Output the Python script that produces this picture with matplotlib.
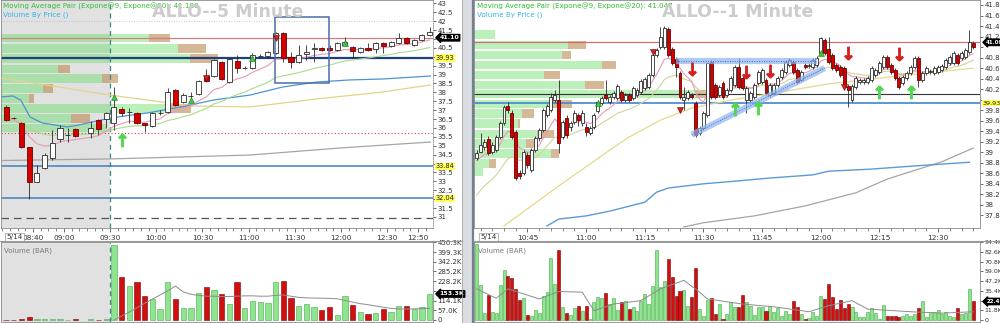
import numpy as np
import matplotlib.pyplot as plt
import matplotlib.transforms as mtransforms
from matplotlib.patches import Rectangle
from matplotlib.lines import Line2D

# %%
# ---------------- ALLO 5 minute (left) ----------------
pre_times = ["08:20", "08:25", "08:30", "08:35", "08:40", "08:45", "08:50",
             "08:55", "09:00", "09:05", "09:15", "09:20", "09:25"]
pre_open = [37.18, 36.56, 36.28, 34.93, 32.97, 33.75, 34.31, 35.38, 35.60, 35.94, 35.72, 36.45, 36.50]
pre_high = [37.30, 36.60, 36.32, 34.95, 33.92, 34.60, 35.89, 36.17, 36.00, 36.00, 36.39, 36.50, 36.90]
pre_low = [36.40, 36.50, 34.90, 32.01, 32.95, 33.70, 34.20, 35.21, 35.21, 35.50, 35.44, 35.60, 36.00]
pre_close = [36.45, 36.54, 34.93, 32.97, 33.47, 34.48, 35.16, 36.00, 35.62, 35.55, 36.00, 35.94, 36.84]
pre_vol = [2, 1, 3, 16, 4, 3, 4, 3, 2, 3, 3, 2, 3]

# regular session, one bar every 5 minutes from 09:30
sess_open = [36.28, 37.07, 36.90, 36.84, 36.28, 36.11, 36.84, 36.90, 38.13, 37.46, 37.80, 37.91, 38.92, 38.92,
             39.71, 38.58, 39.76, 39.37, 39.37, 40.04, 40.04, 40.21, 41.34, 39.99, 39.71, 40.16, 40.44, 40.49,
             40.49, 40.38, 40.66, 40.55, 40.27, 40.49, 40.44, 40.77, 40.61, 40.77, 41.06, 40.66, 40.94, 41.22]
sess_high = [38.30, 37.20, 37.12, 36.90, 36.30, 36.90, 37.00, 38.25, 38.20, 37.95, 38.00, 38.70, 39.31, 39.90,
             39.75, 39.95, 40.10, 39.50, 40.20, 40.15, 40.35, 41.40, 41.40, 40.27, 40.66, 40.66, 40.77, 40.55,
             40.66, 40.85, 41.11, 40.60, 40.55, 40.77, 40.85, 40.85, 40.90, 41.34, 41.10, 41.00, 41.30, 41.67]
sess_low = [35.89, 36.70, 36.28, 36.25, 35.77, 36.05, 36.75, 36.85, 37.25, 37.40, 37.46, 37.85, 38.60, 38.88,
            38.70, 38.55, 39.09, 39.30, 39.30, 39.95, 39.95, 40.15, 39.71, 39.37, 39.65, 39.82, 39.71, 40.30,
            40.30, 40.30, 40.60, 39.93, 40.20, 40.30, 40.21, 40.21, 40.55, 40.70, 40.70, 40.60, 40.90, 41.15]
sess_close = [37.18, 36.84, 36.92, 36.28, 36.17, 36.84, 36.86, 38.02, 37.29, 37.85, 37.82, 38.64, 38.64, 39.82,
              38.75, 39.88, 39.37, 39.39, 40.10, 40.06, 40.27, 41.34, 39.93, 39.71, 40.10, 40.27, 40.49, 40.38,
              40.38, 40.77, 40.83, 40.32, 40.49, 40.38, 40.77, 40.61, 40.83, 41.06, 40.77, 40.94, 41.22, 41.39]
sess_vol = [440, 254.6, 200, 225, 143, 123.5, 64.7, 221.6, 121.6, 68.6, 68.6, 157, 196, 176, 151, 94, 225, 72,
            111.7, 104, 98, 225, 229, 127.6, 82, 92, 78, 58.8, 74.5, 29.4, 141, 88, 45, 33.3, 39, 62.7, 49, 82,
            82, 62.7, 74.5, 153.3]
sess_vol_avg = [0, 23, 47, 72, 98, 123, 147, 172, 200, 165, 151, 145, 140, 140, 138, 138, 140, 142, 142, 140,
                140, 145, 147, 140, 133, 130, 129, 128, 127, 125, 115, 105, 96, 90, 82, 75, 68, 65, 64, 65, 67, 69]

# volume by price rows (price, green part, tan part)
vbp5_price = [41.06, 40.47, 39.90, 39.31, 38.78, 38.22, 37.66, 37.10, 36.53, 36.00]
vbp5_green = [148, 177, 189, 57, 101, 42, 28, 167, 70, 105]
vbp5_tan = [21, 28, 28, 12, 16, 10, 5, 23, 19, 0]

# longer averages (time HH:MM, price)
ma5_blue_t = ["08:19", "08:27", "08:32", "08:38", "08:46", "09:02", "09:10", "09:30", "09:54", "10:20",
              "10:37", "11:01", "11:22", "11:44", "12:06", "12:27", "12:58"]
ma5_blue_p = [37.74, 37.80, 37.57, 36.62, 36.28, 36.06, 36.17, 36.56, 36.84, 37.24, 37.57, 37.85, 38.30,
              38.58, 38.70, 38.75, 38.92]
ma5_yel_t = ["08:19", "09:30", "10:22", "11:01", "11:44", "12:27", "12:58"]
ma5_yel_p = [38.81, 37.85, 37.24, 37.18, 37.63, 38.02, 38.42]
ma5_gray_t = ["08:19", "09:30", "11:01", "12:00", "12:58"]
ma5_gray_p = [34.17, 34.26, 34.48, 34.88, 35.21]

sig5_up_k = [0, 10, 18, 30]
sig5_up_p = [37.75, 37.55, 39.93, 40.77]
sig5_dn_k = [12, 21]
sig5_dn_p = [38.80, 41.06]
arr5_up_k = [1]
arr5_up_p = [35.35]
box5 = ("11:17", "11:52", 38.53, 42.24)

# ---------------- ALLO 1 minute (right), bars from 10:32 ----------------
m_open = [38.89, 39.01, 39.10, 39.25, 39.01, 39.04, 39.29, 39.56, 39.88, 39.75, 39.39, 38.60, 38.60, 38.95, 38.66, 39.04,
          39.27, 39.42, 39.71, 39.80, 40.00, 39.99, 39.29, 39.65, 39.48, 39.58, 39.71, 39.56, 39.48, 39.37, 39.48, 39.78,
          39.94, 40.09, 39.96, 40.05, 40.03, 40.15, 39.99, 40.09, 40.03, 40.09, 40.15, 40.22, 40.24, 40.47, 40.85, 41.00,
          41.00, 41.34, 40.96, 40.77, 40.51, 39.99, 40.03, 40.09, 39.94, 39.37, 39.46, 39.71, 40.72, 40.28, 40.09, 40.32,
          40.09, 40.18, 40.28, 40.62, 40.41, 39.99, 40.00, 40.05, 40.32, 40.34, 40.37, 40.09, 40.13, 40.28, 40.43, 40.53,
          40.66, 40.72, 40.56, 40.37, 40.66, 40.64, 40.62, 40.66, 40.89, 41.13, 40.96, 40.85, 40.66, 40.62, 40.60, 40.26,
          39.99, 40.24, 40.34, 40.34, 40.34, 40.37, 40.47, 40.53, 40.62, 40.81, 40.66, 40.56, 40.41, 40.32, 40.41, 40.51,
          40.62, 40.79, 40.37, 40.51, 40.53, 40.51, 40.53, 40.56, 40.62, 40.70, 40.70, 40.85, 40.79, 40.81, 40.91, 41.08]
m_high = [39.04, 39.37, 39.25, 39.30, 39.20, 39.33, 39.60, 39.90, 39.96, 39.80, 39.42, 38.66, 39.05, 39.00, 39.08, 39.30,
          39.46, 39.84, 39.92, 40.13, 40.18, 40.37, 39.62, 39.70, 39.60, 39.80, 39.75, 39.80, 39.55, 39.50, 39.75, 40.00,
          40.07, 40.37, 40.09, 40.17, 40.30, 40.19, 40.13, 40.13, 40.26, 40.22, 40.40, 40.43, 40.51, 40.89, 40.98, 41.38,
          41.40, 41.38, 41.00, 40.81, 40.55, 40.24, 40.19, 40.13, 39.98, 39.50, 39.79, 40.72, 40.76, 40.32, 40.28, 40.36,
          40.22, 40.45, 40.66, 40.79, 40.45, 40.26, 40.17, 40.32, 40.57, 40.60, 40.41, 40.32, 40.32, 40.45, 40.60, 40.76,
          40.79, 40.76, 40.60, 40.57, 40.70, 40.70, 40.79, 40.83, 41.19, 41.17, 41.19, 40.89, 40.70, 40.66, 40.64, 40.30,
          40.30, 40.45, 40.41, 40.41, 40.45, 40.64, 40.60, 40.74, 40.85, 40.85, 40.70, 40.60, 40.45, 40.47, 40.55, 40.66,
          40.83, 40.83, 40.55, 40.64, 40.59, 40.64, 40.66, 40.68, 40.79, 40.85, 40.93, 40.89, 40.93, 40.98, 41.32, 41.12]
m_low = [38.85, 38.98, 39.05, 38.95, 38.97, 39.00, 39.25, 39.52, 39.75, 39.25, 38.48, 38.50, 38.56, 38.70, 38.62, 39.00,
         39.22, 39.38, 39.67, 39.76, 39.95, 38.99, 39.25, 39.28, 39.40, 39.54, 39.50, 39.50, 39.30, 39.33, 39.44, 39.74,
         39.90, 40.00, 39.92, 40.01, 39.99, 39.95, 39.95, 39.95, 39.99, 40.05, 40.11, 40.18, 40.20, 40.43, 40.81, 40.96,
         40.96, 40.81, 40.66, 40.43, 40.01, 39.80, 39.99, 40.01, 39.29, 39.33, 39.42, 39.67, 40.01, 40.01, 40.05, 40.01,
         40.05, 40.14, 40.24, 40.20, 40.18, 39.75, 39.96, 40.01, 40.28, 40.30, 40.09, 40.05, 40.09, 40.24, 40.39, 40.49,
         40.62, 40.49, 40.30, 40.33, 40.58, 40.60, 40.58, 40.62, 40.85, 40.85, 40.68, 40.56, 40.52, 40.43, 40.20, 39.86,
         39.95, 40.20, 40.30, 40.30, 40.30, 40.33, 40.43, 40.49, 40.58, 40.58, 40.49, 40.37, 40.20, 40.28, 40.37, 40.47,
         40.58, 40.24, 40.33, 40.47, 40.49, 40.47, 40.49, 40.52, 40.58, 40.66, 40.66, 40.66, 40.75, 40.77, 40.87, 40.96]
m_close = [38.99, 39.14, 39.20, 38.99, 39.14, 39.29, 39.56, 39.86, 39.80, 39.29, 38.51, 38.55, 39.00, 38.76, 39.04, 39.27,
           39.42, 39.80, 39.88, 40.05, 40.09, 39.18, 39.58, 39.33, 39.56, 39.75, 39.62, 39.75, 39.39, 39.46, 39.71, 39.96,
           40.03, 40.03, 40.05, 40.13, 40.26, 39.99, 40.09, 39.99, 40.22, 40.18, 40.36, 40.39, 40.47, 40.85, 40.94, 41.19,
           41.36, 40.85, 40.70, 40.62, 40.05, 40.05, 40.15, 40.05, 39.33, 39.46, 39.75, 40.70, 40.05, 40.05, 40.24, 40.05,
           40.18, 40.41, 40.62, 40.24, 40.22, 40.22, 40.13, 40.28, 40.53, 40.56, 40.13, 40.28, 40.28, 40.41, 40.56, 40.72,
           40.75, 40.53, 40.34, 40.53, 40.62, 40.66, 40.75, 40.79, 41.17, 40.89, 40.72, 40.60, 40.56, 40.47, 40.24, 40.18,
           40.26, 40.41, 40.37, 40.37, 40.41, 40.60, 40.56, 40.70, 40.81, 40.62, 40.53, 40.41, 40.24, 40.43, 40.51, 40.62,
           40.79, 40.37, 40.51, 40.60, 40.55, 40.60, 40.62, 40.64, 40.75, 40.81, 40.89, 40.70, 40.89, 40.94, 41.10, 41.00]
m_vol = [92, 42, 8.3, 30.4, 10, 9, 41.8, 60.3, 53.3, 51.2, 37.7, 24.7, 26.7, 6.3, 5, 12, 8.3, 29.6, 33.7, 74.6,
         43.9, 85, 16, 8.3, 5.8, 14.4, 17.3, 10.3, 17.3, 1.8, 21.4, 28.4, 26.3, 32.9, 19.3, 26.3, 12, 21.4, 23.4, 13.2,
         15.3, 11.2, 22.6, 31.6, 19.3, 41, 85, 39.8, 46.7, 73.7, 52.1, 29.6, 34.5, 36.5, 16.5, 27.5, 63.1, 13.2, 5, 24.3,
         26.3, 7.1, 19.3, 1, 7.1, 21.4, 15.3, 16, 30.4, 21.4, 17.3, 5.8, 15.3, 16, 11.2, 17.3, 10, 14, 5, 11.2,
         7.1, 23.4, 15.3, 7.1, 1.8, 3, 9.1, 5, 29.6, 25.5, 43.9, 27.5, 13.2, 24.7, 14.4, 19.3, 15.3, 9.1, 3.8, 3.8,
         9.1, 14, 8.3, 1, 18.1, 5, 5, 5, 3.8, 5, 7.1, 5, 7.1, 14, 22.6, 4.2, 9.1, 10, 12, 7.1,
         9.1, 5, 3.8, 14, 7.1, 8.3, 37.7, 22.4]
m_vavg_i = [0, 5, 8, 16, 21, 27, 30, 35, 42, 47, 53, 57, 59, 68, 76, 85, 90, 96, 100, 111, 119, 127]
m_vavg = [37.7, 26.3, 37.7, 25.5, 34.5, 33.7, 11.2, 19.3, 23.4, 37.7, 48, 33.7, 25.5, 19.3, 16, 10, 17.3, 23.4,
          13.2, 10, 8.3, 10]

vbp1_price = [41.24, 41.04, 40.85, 40.66, 40.47, 40.28, 40.11, 39.92, 39.74, 39.55, 39.35, 39.17, 38.98, 38.79, 38.62]
vbp1_green = [21, 94, 88, 128, 70, 111, 222, 75, 48, 44, 63, 52, 77, 15, 9]
vbp1_tan = [0, 18, 9, 14, 16, 19, 31, 23, 12, 2, 17, 11, 8, 7, 0]

ma1_yel_t = ["10:39", "10:53", "11:06", "11:11", "11:19", "11:27", "11:37", "11:50", "12:02", "12:20", "12:39"]
ma1_yel_p = [37.60, 38.36, 39.04, 39.29, 39.61, 39.84, 39.99, 40.15, 40.30, 40.45, 40.60]
ma1_blue_t = ["10:50", "10:53", "11:00", "11:06", "11:15", "11:18", "11:21", "11:30", "11:38", "11:47", "11:58",
              "12:02", "12:13", "12:24", "12:38"]
ma1_blue_p = [37.60, 37.73, 37.79, 37.88, 38.05, 38.24, 38.32, 38.40, 38.45, 38.51, 38.57, 38.64, 38.68, 38.74, 38.81]
ma1_gray_t = ["11:25", "11:30", "11:43", "11:56", "12:09", "12:17", "12:31", "12:39"]
ma1_gray_p = [37.58, 37.66, 37.79, 37.98, 38.23, 38.49, 38.82, 39.08]

arr1_dn_i = [55, 69, 75, 95, 108]
arr1_dn_p = [40.59, 40.53, 40.55, 40.89, 40.87]
arr1_up_i = [66, 72, 103, 111]
arr1_up_p = [39.82, 39.84, 40.15, 40.15]
tri1_dn_i = [45, 52, 94]
tri1_dn_p = [40.91, 39.80, 40.25]
tri1_up_i = [31, 88]
tri1_up_p = [39.94, 40.89]
flat1 = ("11:23", "11:59", 40.73)
rise1 = ("11:27", 39.33, "12:01", 40.60)


def hm(s):
    h, m = s.split(":")
    return int(h) * 60 + int(m)


def hm_list(lst):
    return [hm(s) for s in lst]


def ema(vals, n, seed):
    a = 2.0 / (n + 1)
    out = []
    e = seed
    for v in vals:
        e = e + a * (v - e)
        out.append(e)
    return np.array(out)


def candles(ax, t, o, h, l, c, w):
    t, o, h, l, c = [np.asarray(v, float) for v in (t, o, h, l, c)]
    up = c >= o
    ax.vlines(t, l, h, color="#2b2b2b", lw=0.6, zorder=4)
    bot = np.minimum(o, c)
    hgt = np.abs(c - o)
    ax.bar(t[up], hgt[up], w, bottom=bot[up], color="white", edgecolor="#2b2b2b", lw=0.6, zorder=5)
    ax.bar(t[~up], hgt[~up], w, bottom=bot[~up], color="#d40000", edgecolor="#6a0000", lw=0.6, zorder=5)
    return up


def vbp(ax, price, green, tan, full, rowh):
    tr = mtransforms.blended_transform_factory(ax.transAxes, ax.transData)
    g = np.array(green, float) / full
    tn = np.array(tan, float) / full
    ax.barh(price, g, height=rowh, left=0, color="#5fdc5f", alpha=0.42, lw=0, transform=tr, zorder=1)
    ax.barh(price, tn, height=rowh, left=g, color="#b98a4e", alpha=0.6, lw=0, transform=tr, zorder=1)


def tag(ax, y, txt, kind, fs=4.5):
    tr = ax.get_yaxis_transform()
    if kind == "cur":
        bb = dict(boxstyle="larrow,pad=0.12", fc="black", ec="black")
        ax.annotate(txt, xy=(1, y), xycoords=tr, xytext=(4.5, 0), textcoords="offset points",
                    ha="left", va="center", fontsize=fs, color="white", fontweight="bold", bbox=bb,
                    annotation_clip=False, zorder=10)
    else:
        bb = dict(boxstyle="square,pad=0.1", fc="#ffff55", ec="none")
        ax.annotate(txt, xy=(1, y), xycoords=tr, xytext=(2, 0), textcoords="offset points",
                    ha="left", va="center", fontsize=fs, color="#222222", bbox=bb,
                    annotation_clip=False, zorder=10)


def fmt_hm(v, pos=None):
    v = int(round(v))
    return "%02d:%02d" % (v // 60, v % 60)


def style_axes(ax, yfs=5.0):
    for s in ax.spines.values():
        s.set_color("#8a8a8a")
        s.set_linewidth(0.6)
    ax.yaxis.tick_right()
    ax.tick_params(axis="y", labelsize=yfs, length=2, pad=1.2, colors="#333333", width=0.5)
    ax.tick_params(axis="x", labelsize=5.3, length=3, pad=2, colors="#333333", width=0.5)
    ax.tick_params(axis="x", which="minor", length=1.8, width=0.5, colors="#555555")


def tick_text(vals, fmt, hide):
    out = []
    for v in vals:
        s = fmt(v)
        out.append("" if s in hide else s)
    return out


# %%
H = 323.0


def rect(x0, x1, y0, y1):
    return [x0 / 1000.0, 1 - y1 / H, (x1 - x0) / 1000.0, (y1 - y0) / H]


fig = plt.figure(figsize=(10, 3.23), dpi=100)
axL = fig.add_axes(rect(1, 433, 0, 228))
axLv = fig.add_axes(rect(1, 433, 242, 322))
axR = fig.add_axes(rect(474, 980, 0, 228))
axRv = fig.add_axes(rect(474, 980, 242, 322))

# ---- left panel ----
t5 = np.array(hm_list(pre_times) + [570 + 5 * k for k in range(len(sess_open))], float) + 2.5
o5 = pre_open + sess_open
h5 = pre_high + sess_high
l5 = pre_low + sess_low
c5 = pre_close + sess_close
v5 = np.array(pre_vol + sess_vol)
xl5 = (499.2, 779.7)

axL.axvspan(xl5[0], 570, color="#e1e1e1", lw=0, zorder=0)
vbp(axL, vbp5_price, vbp5_green, vbp5_tan, 432.0, 0.47)
axL.axhline(42.0, color="#b5b5b5", lw=0.6, ls=(0, (1, 2)), zorder=2)
axL.axhline(41.07, color="#d08080", lw=0.9, zorder=2)
axL.axhline(39.93, color="#1f3f7a", lw=1.6, zorder=2)
axL.axhline(35.74, color="#cc4444", lw=0.8, ls=(0, (1, 2)), zorder=2)
axL.axhline(33.84, color="#3f7fc0", lw=1.1, zorder=2)
axL.axhline(32.04, color="#3f7fc0", lw=1.1, zorder=2)
axL.axhline(30.93, color="#555555", lw=0.9, ls=(0, (6, 4)), zorder=2)
axL.axvline(570, color="#3d8585", lw=0.9, ls=(0, (4, 3)), zorder=3)
axLv.axvspan(xl5[0], 570, color="#e1e1e1", lw=0, zorder=0)
axLv.axvline(570, color="#3d8585", lw=0.9, ls=(0, (4, 3)), zorder=3)

axL.plot(hm_list(ma5_gray_t), ma5_gray_p, color="#a5a5a5", lw=0.9, zorder=3)
axL.plot(hm_list(ma5_yel_t), ma5_yel_p, color="#e3d48a", lw=0.9, zorder=3)
axL.plot(hm_list(ma5_blue_t), ma5_blue_p, color="#4f94cf", lw=0.9, zorder=3)
axL.plot(t5, ema(c5, 20, c5[0]), color="#a9dc8c", lw=0.8, zorder=3)
axL.plot(t5, ema(c5, 9, c5[0]), color="#e69ab8", lw=0.8, zorder=3)

up5 = candles(axL, t5, o5, h5, l5, c5, 3.3)

bx = box5
axL.add_patch(Rectangle((hm(bx[0]), bx[2]), hm(bx[1]) - hm(bx[0]), bx[3] - bx[2],
                        fill=False, ec="#4a6fa5", lw=1.1, zorder=6))
axL.plot(572.5 + 5 * np.array(sig5_up_k), sig5_up_p, ls="none", marker="^", ms=4,
         mfc="#3cc83c", mec="#1e7a1e", mew=0.4, zorder=7)
axL.plot(572.5 + 5 * np.array(sig5_dn_k), sig5_dn_p, ls="none", marker="v", ms=4,
         mfc="#d42020", mec="#7a0000", mew=0.4, zorder=7)
axL.plot(572.5 + 5 * np.array(arr5_up_k), arr5_up_p, ls="none", marker=r"$\uparrow$", ms=9,
         color="#4fd84f", zorder=7)

axLv.bar(t5[up5], v5[up5], 3.4, color="#8fe58f", edgecolor="#47a847", lw=0.4, zorder=2)
axLv.bar(t5[~up5], v5[~up5], 3.4, color="#d01010", edgecolor="#7a0000", lw=0.4, zorder=2)
axLv.plot(570 + 2.5 + 5 * np.arange(len(sess_vol_avg)), sess_vol_avg, color="#8c8c8c", lw=0.7, zorder=3)

axL.set_xlim(*xl5)
axL.set_ylim(30.38, 43.19)
axLv.set_xlim(*xl5)
axLv.set_ylim(-11.8, 458.6)
l_ticks = np.arange(31, 43.01, 0.5)
axL.set_yticks(l_ticks)
axL.set_yticklabels(tick_text(l_ticks, lambda v: "%g" % v, {"41", "40", "34", "32"}))
axL.set_xticks([520, 540, 570, 600, 630, 660, 690, 720, 750, 770])
axL.set_xticks(np.arange(500, 780, 5), minor=True)
axL.xaxis.set_major_formatter(fmt_hm)
v5_ticks = [57.04 * j for j in range(9)]
axLv.set_yticks(v5_ticks)
axLv.set_yticklabels(tick_text(v5_ticks, lambda v: "0" if v == 0 else "%.1fK" % v, {"171.1K"}))
axLv.set_xticks([])

# ---- right panel ----
t1 = 632 + np.arange(len(m_open), dtype=float)
xl1 = (631.32, 760.73)
vbp(axR, vbp1_price, vbp1_green, vbp1_tan, 506.0, 0.16)
axR.axhline(41.09, color="#d07070", lw=0.9, zorder=2)
axR.axhline(40.10, color="#333333", lw=0.8, zorder=2)
axR.axhline(39.93, color="#3f86d0", lw=1.2, zorder=2)

axR.plot(hm_list(ma1_gray_t), ma1_gray_p, color="#a5a5a5", lw=0.9, zorder=3)
axR.plot(hm_list(ma1_blue_t), ma1_blue_p, color="#5b9bd5", lw=1.0, zorder=3)
axR.plot(hm_list(ma1_yel_t), ma1_yel_p, color="#e6d98c", lw=0.9, zorder=3)
axR.plot(t1, ema(m_close, 20, 38.1), color="#cfd49a", lw=0.8, zorder=3)
axR.plot(t1, ema(m_close, 9, 38.8), color="#e69ab8", lw=0.8, zorder=3)

# hand drawn triangle
fx = [hm(flat1[0]), hm(flat1[1])]
rx = [hm(rise1[0]), hm(rise1[2])]
for xs, ys in ((fx, [flat1[2], flat1[2]]), (rx, [rise1[1], rise1[3]])):
    axR.plot(xs, ys, color="#8fb4ee", lw=4.5, alpha=0.7, solid_capstyle="butt", zorder=6)
    axR.plot(xs, ys, color="#3d6fd0", lw=0.7, ls=(0, (1, 1.5)), zorder=6)

up1 = candles(axR, t1, m_open, m_high, m_low, m_close, 0.75)

axR.plot(632 + np.array(arr1_dn_i), arr1_dn_p, ls="none", marker=r"$\downarrow$", ms=9,
         color="#d42020", zorder=7)
axR.plot(632 + np.array(arr1_up_i), arr1_up_p, ls="none", marker=r"$\uparrow$", ms=9,
         color="#4fd84f", zorder=7)
axR.plot(632 + np.array(tri1_dn_i), tri1_dn_p, ls="none", marker="v", ms=4,
         mfc="#d42020", mec="#7a0000", mew=0.4, zorder=7)
axR.plot(632 + np.array(tri1_up_i), tri1_up_p, ls="none", marker="^", ms=4,
         mfc="#3cc83c", mec="#1e7a1e", mew=0.4, zorder=7)

mv = np.array(m_vol)
axRv.bar(t1[up1], mv[up1], 0.78, color="#8fe58f", edgecolor="#47a847", lw=0.4, zorder=2)
axRv.bar(t1[~up1], mv[~up1], 0.78, color="#d01010", edgecolor="#7a0000", lw=0.4, zorder=2)
axRv.plot(632 + np.array(m_vavg_i), m_vavg, color="#8c8c8c", lw=0.7, zorder=3)

axR.set_xlim(*xl1)
axR.set_ylim(37.56, 41.895)
axRv.set_xlim(*xl1)
axRv.set_ylim(-2.42, 94.4)
r_ticks = np.round(np.arange(37.8, 41.81, 0.2), 1)
axR.set_yticks(r_ticks)
axR.set_yticklabels(tick_text(r_ticks, lambda v: "%g" % v, {"41", "40"}))
axR.set_xticks(np.arange(645, 760, 15))
axR.set_xticks(np.arange(633, 761, 3), minor=True)
axR.xaxis.set_major_formatter(fmt_hm)
v1_ticks = [11.8 * j for j in range(9)]
axRv.set_yticks(v1_ticks)
axRv.set_yticklabels(tick_text(v1_ticks, lambda v: "0" if v == 0 else "%.1fK" % v, {"23.6K"}))
axRv.set_xticks([])

for ax in (axL, axLv, axR):
    style_axes(ax)
style_axes(axRv, 4.5)
axL.spines["right"].set_linestyle((0, (1, 1.5)))

# value tags on the price scales
tag(axL, 41.07, "41.10", "cur")
tag(axL, 39.93, "39.93", "lvl", 4.8)
tag(axL, 33.84, "33.84", "lvl", 4.8)
tag(axL, 32.04, "32.04", "lvl", 4.8)
tag(axLv, 153.3, "153.3K", "cur")
tag(axR, 41.09, "41.09", "cur", 4.0)
tag(axR, 39.93, "39.93", "lvl", 4.6)
tag(axRv, 22.4, "22.4K", "cur", 4.0)

# texts
for x0, val in ((3, "41.180"), (477, "41.047")):
    fig.text(x0 / 1000.0, 1 - 6 / H, "Moving Average Pair (Expone@9, Expone@20): " + val,
             fontsize=5.1, color="#2ec02e", va="center", ha="left")
    fig.text(x0 / 1000.0, 1 - 14.5 / H, "Volume By Price ()", fontsize=5.1, color="#35b4e6",
             va="center", ha="left")
wm = dict(fontsize=12.5, fontweight="bold", color="#cccccc", va="center", ha="left")
fig.text(152 / 1000.0, 1 - 12 / H, "ALLO--5 Minute", **wm)
fig.text(662 / 1000.0, 1 - 12 / H, "ALLO--1 Minute", **wm)
for ax in (axLv, axRv):
    ax.text(0.008, 0.93, "Volume (BAR)", transform=ax.transAxes, fontsize=5, color="#7a7a7a",
            va="top", ha="left", zorder=8)
for ax in (axL, axR):
    ax.text(0.012, -0.028, "5/14", transform=ax.transAxes, fontsize=5.2, color="#333333", va="top",
            ha="left", bbox=dict(boxstyle="square,pad=0.15", fc="white", ec="#999999", lw=0.5))

# frame between the two charts
fig.add_artist(Rectangle((0.463, 0), 0.009, 1, transform=fig.transFigure, color="#d9dde2", zorder=0))
fig.add_artist(Line2D([0.4725, 0.4725], [0, 1], transform=fig.transFigure, color="#74808f", lw=1.6))
fig.add_artist(Line2D([0.462, 0.462], [0, 1], transform=fig.transFigure, color="#a0a0a0", lw=0.6))
for x0, x1 in ((0.0, 0.462), (0.473, 1.0)):
    fig.add_artist(Line2D([x0, x1], [1 - 241 / H, 1 - 241 / H], transform=fig.transFigure,
                          color="#9a9a9a", lw=0.8))

fig.savefig("out.png", dpi=100)
